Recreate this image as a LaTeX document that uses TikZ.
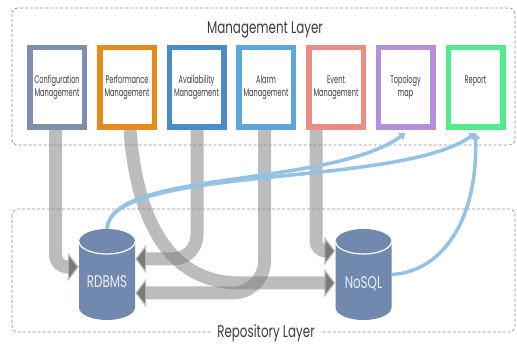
\documentclass[tikz,border=0pt]{standalone}
\usepackage{fontspec}
\setmainfont{Poppins}[FakeStretch=0.7]
\newfontfamily\boxfont{Poppins}[FakeStretch=0.6]
\usetikzlibrary{calc,arrows.meta,backgrounds}
\definecolor{cfgc}{HTML}{7D8FAA}
\definecolor{perfc}{HTML}{E8891C}
\definecolor{availc}{HTML}{4C8CC6}
\definecolor{alarmc}{HTML}{5EA6DA}
\definecolor{eventc}{HTML}{E98D85}
\definecolor{topoc}{HTML}{B590DA}
\definecolor{reportc}{HTML}{52EC8E}
\definecolor{drumc}{HTML}{7189AE}
\definecolor{linkc}{HTML}{93C3E4}
\definecolor{txtc}{HTML}{3C3C3C}
\def\dbdrum(#1,#2){\fill[drumc] (#1-28,#2-33) -- (#1-28,#2+33) arc[start angle=180,end angle=0,x radius=28,y radius=12.5] -- (#1+28,#2-33) arc[start angle=0,end angle=-180,x radius=28,y radius=12.5] -- cycle;
	\draw[white,line width=1.2] (#1-28,#2-33) arc[start angle=180,end angle=0,x radius=28,y radius=12.5];}
\tikzset{
	mbox/.style={draw=#1, line width=5.5, fill=white, minimum width=54.5, minimum height=79.5, inner sep=0, align=center, text=txtc, font=\boxfont\fontsize{11}{13}\selectfont},
	layer/.style={draw=black!45, densely dashed, line width=0.6, rounded corners=6},
	layertitle/.style={text=txtc, inner sep=5, font=\fontsize{17}{20}\selectfont},
	dbnode/.style={minimum width=56, minimum height=91, inner sep=0, text=drumc!15!white, font=\fontsize{17}{20}\selectfont},
	gband/.style={draw=black!52, draw opacity=0.5, line width=13, -{Triangle[length=11,width=28]}},
	bline/.style={draw=linkc, line width=3.5, -{Triangle[length=6,width=9]}}
}

\begin{document}
\begin{tikzpicture}[x=1pt,y=-1pt]
			%%%%% START %%%%%
			\useasboundingbox (0,0) rectangle (517,347);
			
			\draw[layer] (12,8) rectangle (515,145);
			\draw[layer] (12,209) rectangle (515,332);
			\node[layertitle] (mgmt) at (265,30) {Management Layer};
			
			\dbdrum(107,274.5)
			\dbdrum(363.5,274.5)
			\node[dbnode] (rdb) at (107,274.5) {\raisebox{-7pt}[\height][\depth]{RDBMS}};
			\node[dbnode] (nos) at (363.5,274.5) {\raisebox{-9pt}[\height][\depth]{NoSQL}};
			
			\node[mbox=cfgc] (cfg) at (57,87.5) {Configuration\\Management};
			\node[mbox=perfc] (perf) at (127,87.5) {Performance\\Management};
			\node[mbox=availc] (avail) at (196.5,87.5) {Availability\\Management};
			\node[mbox=alarmc] (alarm) at (266,87.5) {Alarm\\Management};
			\node[mbox=eventc] (event) at (336,87.5) {Event\\Management};
			\node[mbox=topoc] (topo) at (405.5,87.5) {Topology\\map};
			\node[mbox=reportc] (report) at (475.5,87.5) {Report\\\phantom{Mg}};
			
			\begin{pgfonlayer}{background}
			\draw[gband, rounded corners=12] ($(cfg.south)+(-1.5,0)$) |- ($(rdb.west)+(0,-7.5)$);
			\draw[gband] ($(perf.south)+(3,0)$) .. controls ($(perf.south)+(10,93)$) and ($(nos.west)+(-165,8.5)$) .. ($(nos.west)+(-95,8.5)$) -- ($(nos.west)+(0,8.5)$);
			\draw[gband, rounded corners=24] ($(avail.south)+(0.5,0)$) |- ($(rdb.east)+(0,-15.5)$);
			\draw[gband, rounded corners=32] ($(alarm.south)+(-1.5,0)$) |- ($(rdb.east)+(0,18.5)$);
			\draw[gband, rounded corners=10] ($(event.south)+(-20,0)$) |- ($(nos.west)+(0,-23.5)$);
			\end{pgfonlayer}
			
			\draw[bline] (rdb.north) .. controls ($(rdb.north)+(3,-59)$) and ($(topo.south)+(-75.5,58)$) .. ($(topo.south)+(0,3)$);
			\draw[bline] (rdb.north) .. controls ($(rdb.north)+(3,-64)$) and ($(report.south)+(-75.5,58)$) .. ($(report.south)+(0,3)$);
			\draw[bline] (nos.east) .. controls ($(nos.east)+(48.5,-2.5)$) and ($(report.south)+(2.5,93)$) .. ($(report.south)+(0,3)$);
			
			\node[layertitle, fill=white] (repo) at (266,333) {Repository Layer};
			%%%%% END %%%%%
\end{tikzpicture}
\end{document}
